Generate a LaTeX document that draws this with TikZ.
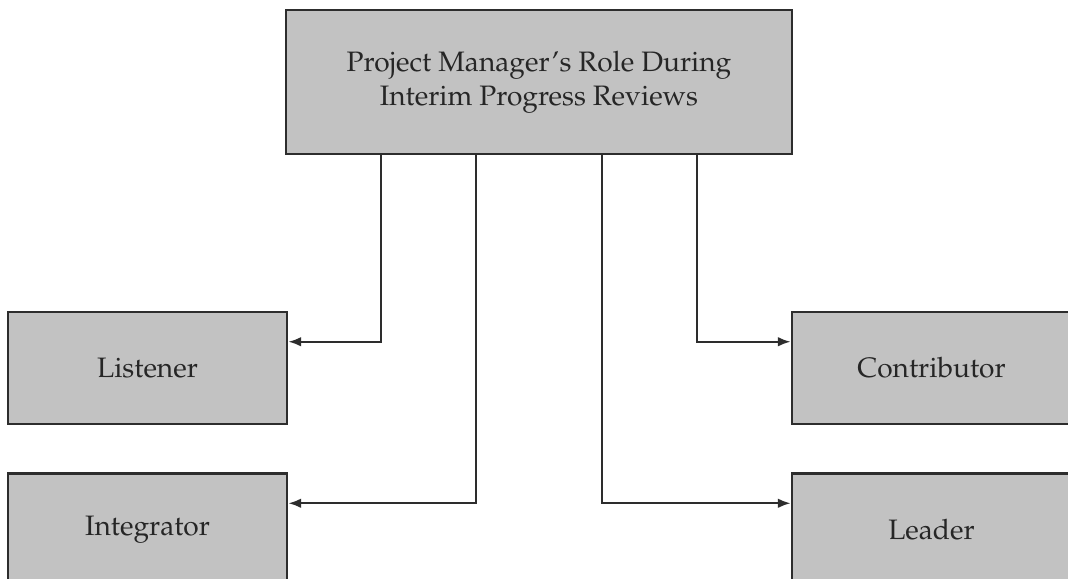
\documentclass[tikz,border=0pt]{standalone}
\usepackage[T1]{fontenc}
\renewcommand{\rmdefault}{ppl}
\usetikzlibrary{arrows.meta,positioning}
\definecolor{inkgray}{RGB}{45,45,45}
\definecolor{boxfill}{RGB}{194,194,194}
\tikzset{
  role box/.style={
    rectangle, draw=inkgray, line width=1.8pt,
    fill=boxfill, text=black!85, align=center,
    minimum width=6.975cm, minimum height=2.8cm,
    inner sep=0pt, font=\fontsize{20}{24}\selectfont
  },
  title box/.style={role box, minimum width=12.65cm, minimum height=3.6cm},
  role arrow/.style={-{Latex[length=3.2mm,width=2.4mm]}, line width=1.6pt, inkgray}
}

\begin{document}
\begin{tikzpicture}[node distance=1.175cm]
    \useasboundingbox (0,0) rectangle (26.7,-14.45);
    \clip (0,0) rectangle (26.7,-14.45);
    \node[title box] (review) at (13.475,-2.05) {Project Manager's Role During\\Interim Progress Reviews};
    \node[role box] (listener) at (3.6875,-9.2) {Listener};
    \node[role box, below=of listener] (integrator) {Integrator};
    \node[role box] (contributor) at (23.2875,-9.2) {Contributor};
    \node[role box, below=of contributor] (leader) {Leader};
    \draw[role arrow] ([xshift=-3.95cm]review.south) |- ([yshift=-0.775cm]listener.north east);
    \draw[role arrow] ([xshift=-1.575cm]review.south) |- ([yshift=-0.775cm]integrator.north east);
    \draw[role arrow] ([xshift=1.575cm]review.south) |- ([yshift=-0.775cm]leader.north west);
    \draw[role arrow] ([xshift=3.95cm]review.south) |- ([yshift=-0.775cm]contributor.north west);
  \end{tikzpicture}
\end{document}
